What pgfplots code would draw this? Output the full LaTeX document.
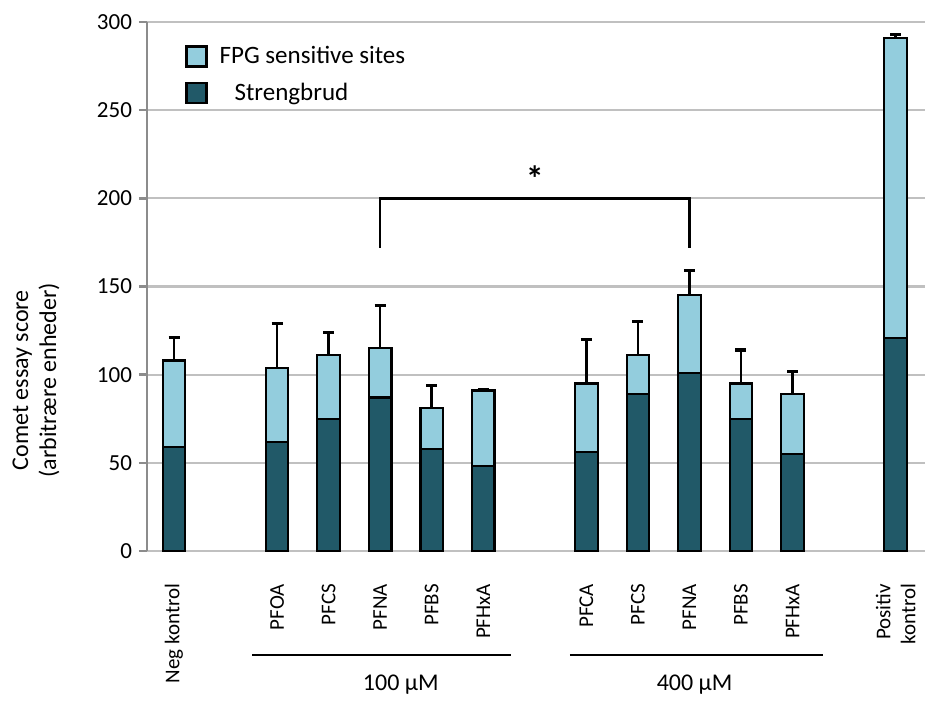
\documentclass[border=0pt]{standalone}
\usepackage{pgfplots}
\pgfplotsset{compat=1.18}
\usepackage{fontspec}
\setmainfont{Carlito}
\definecolor{darkc}{HTML}{215968}
\definecolor{lightc}{HTML}{93CDDD}
\definecolor{gridc}{HTML}{C0C0C0}
\definecolor{axc}{HTML}{8C8C8C}
\begin{document}
\begin{tikzpicture}
\begin{axis}[
 width=389pt, height=264.5pt, scale only axis,
 xmin=-0.524, xmax=14.57, ymin=0, ymax=300,
 ytick={0,50,...,300},
 ymajorgrids, grid style={gridc, line width=1.1pt},
 axis lines*=left,
 x axis line style={draw=none},
 y axis line style={axc, line width=1.4pt},
 ytick style={axc, line width=1.2pt}, tick align=outside, major tick length=4pt,
 xtick={0,2,3,4,5,6,8,9,10,11,12,14},
 xticklabels={Neg kontrol, PFOA, PFCS, PFNA, PFBS, PFHxA, PFCA, PFCS, PFNA, PFBS, PFHxA, {Positiv\\kontrol}},
 xtick style={draw=none},
 xticklabel style={rotate=90, anchor=east, align=right, font=\fontsize{10.5}{12.5}\selectfont},
 xticklabel shift=9pt,
 yticklabel style={font=\fontsize{11.5}{13}\selectfont},
 /pgf/number format/assume math mode=true,
 ylabel={Comet essay score\\(arbitrære enheder)},
 ylabel style={align=center, font=\fontsize{12}{14}\selectfont, at={(axis description cs:-0.1427,0.323)}, anchor=center},
 clip=false,
 ybar, bar width=11.25pt, bar shift=0pt,
 legend style={draw=none, fill=none, at={(axis description cs:0,1)}, anchor=north west, xshift=16pt, yshift=-8pt, font=\fontsize{12.5}{14}\selectfont, row sep=4pt, legend cell align=left},
 legend image code/.code={\draw[#1, line width=1.1pt] (0pt,-5pt) rectangle (10pt,5pt); \path (14pt,0pt);},
]
\addplot[fill=lightc, draw=black, line width=1.1pt,
  error bars/.cd, y dir=plus, y explicit,
  error bar style={black, line width=1.3pt},
  error mark options={rotate=90, mark size=2.75pt, line width=1.6pt}]
 table[x=x, y=y, y error=e] {
 x y e
 0 108 13
 2 104 25
 3 111 13
 4 115 24
 5 81 13
 6 91 0.5
 8 95 25
 9 111 19
 10 145 14
 11 95 19
 12 89 13
 14 291 2
 };
\addlegendentry{FPG sensitive sites}
\addplot[fill=darkc, draw=black, line width=1.1pt]
 table[x=x, y=y] {
 x y
 0 59
 2 62
 3 75
 4 87
 5 58
 6 48
 8 56
 9 89
 10 101
 11 75
 12 55
 14 121
 };
\addlegendentry{\hspace{7.5pt}Strengbrud}
\draw[black, line width=1.2pt] (axis cs:4,172) |- (axis cs:10,200) -- (axis cs:10,172);
\node[font=\fontsize{18}{18}\bfseries] at (axis cs:7,211) {*};
\draw[black, line width=1.3pt] (axis cs:1.52,-59) -- (axis cs:6.54,-59);
\draw[black, line width=1.3pt] (axis cs:7.68,-59) -- (axis cs:12.59,-59);
\node[font=\fontsize{12}{14}\selectfont] at (axis cs:4.4,-76) {100 µM};
\node[font=\fontsize{12}{14}\selectfont] at (axis cs:10.1,-76) {400 µM};
\end{axis}
\path (current axis.south west) +(-73.5pt,-72pt) (current axis.north east) +(2.5pt,11pt);
\end{tikzpicture}
\end{document}
